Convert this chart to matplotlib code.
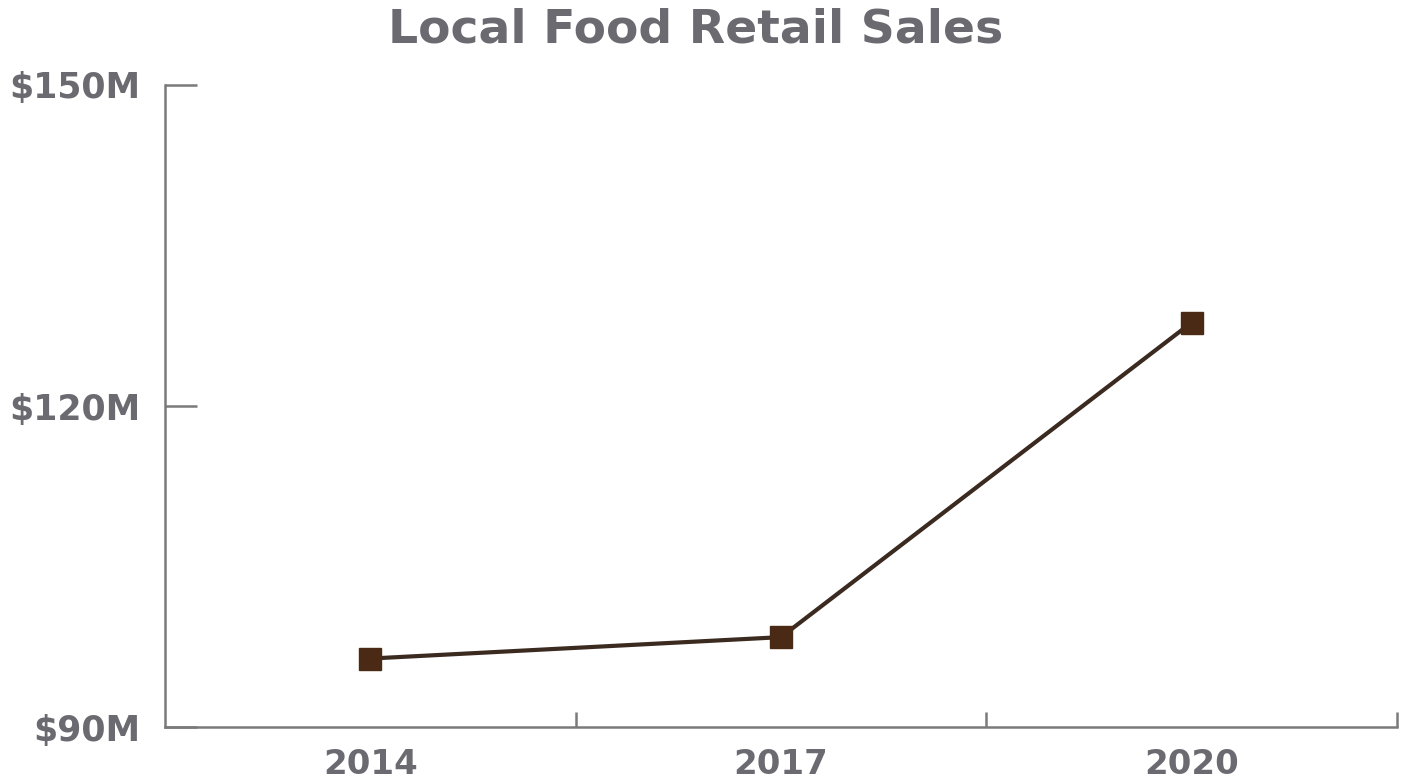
import matplotlib
matplotlib.use("Agg")
import matplotlib.pyplot as plt
from matplotlib.ticker import FixedLocator, FuncFormatter

years = ["2014", "2017", "2020"]
sales_m = [96.4, 98.4, 127.8]
y_ticks = [90, 120, 150]

text_color = "#6a6a70"
axis_color = "#7a7a7a"
line_color = "#3b2a20"
marker_color = "#4a2a14"

plt.rcParams["font.family"] = ["DejaVu Sans"]

fig = plt.figure(figsize=(14.02, 7.81), dpi=100)
ax = fig.add_axes([0.1177, 0.0691, 0.8787, 0.8221])

x = list(range(len(years)))
ax.plot(x, sales_m, color=line_color, linewidth=3.0, marker="s",
        markersize=16, markerfacecolor=marker_color,
        markeredgecolor=marker_color, zorder=3)

ax.set_xlim(-0.5, len(years) - 0.5)
ax.set_ylim(90, 150)

for side in ("top", "right"):
    ax.spines[side].set_visible(False)
for side in ("left", "bottom"):
    ax.spines[side].set_color(axis_color)
    ax.spines[side].set_linewidth(1.8)

ax.set_xticks(x)
ax.set_xticklabels(years)
ax.xaxis.set_minor_locator(FixedLocator([i + 0.5 for i in x]))
ax.tick_params(axis="x", which="major", length=0, pad=15,
               labelsize=24.5, labelcolor=text_color)
ax.tick_params(axis="x", which="minor", direction="in", length=11,
               width=1.8, color=axis_color)
for lbl in ax.get_xticklabels():
    lbl.set_fontweight("bold")

ax.set_yticks(y_ticks)
ax.yaxis.set_major_formatter(FuncFormatter(lambda v, _: f"${v:.0f}M"))
ax.tick_params(axis="y", direction="in", length=23, width=1.8,
               color=axis_color, pad=18, labelsize=25, labelcolor=text_color)
for lbl in ax.get_yticklabels():
    lbl.set_fontweight("bold")

fig.text(0.496, 0.962, "Local Food Retail Sales", ha="center", va="center",
         fontsize=34, fontweight="bold", color=text_color)

fig.savefig("out.png", dpi=100, facecolor="white")
